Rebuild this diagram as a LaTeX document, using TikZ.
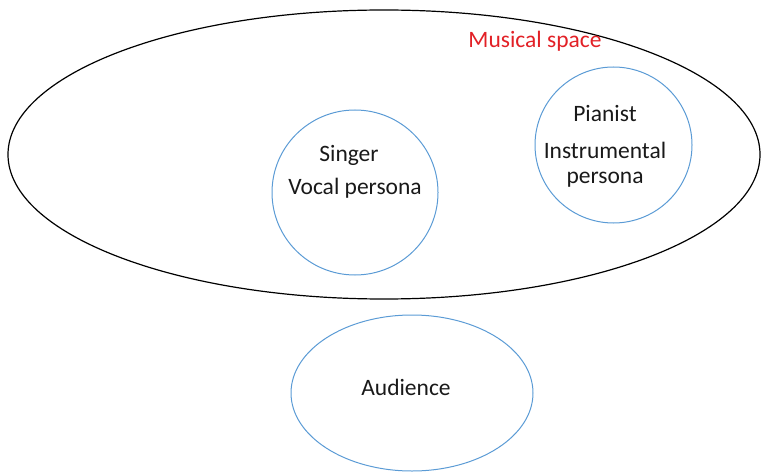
\documentclass[tikz,border=0pt]{standalone}
\usepackage{fontspec}
\setmainfont{Carlito}
\usetikzlibrary{shapes.geometric}
\definecolor{ringblue}{RGB}{91,155,213}
\definecolor{labelred}{RGB}{226,32,38}
\definecolor{ink}{RGB}{25,25,25}
\tikzset{
  space/.style={ellipse, draw=black, line width=1.2pt, inner sep=0pt},
  ring/.style={ellipse, draw=ringblue, line width=1pt, inner sep=0pt},
  txt/.style={text=ink, font=\fontsize{23.5}{28}\selectfont, inner sep=0pt, anchor=center},
}
\begin{document}
\begin{tikzpicture}[x=1pt, y=-1pt]
  \useasboundingbox (0,0) rectangle (762,473);
  % outer musical space
  \node[space, minimum width=752pt, minimum height=289pt] (space) at (384,154.5) {};
  \node[txt, text=labelred] (spacelabel) at (535,41) {Musical space};
  % singer
  \node[ring, minimum width=166pt, minimum height=165pt] (singer) at (355,192.5) {};
  \node[txt] (singername) at (349,155) {Singer};
  \node[txt] (vocal) at (355,188) {Vocal persona};
  % pianist
  \node[ring, minimum width=157pt, minimum height=156pt] (pianist) at (613.5,145) {};
  \node[txt] (pianistname) at (605,114) {Pianist};
  \node[txt] (instr) at (605,150) {Instrumental};
  \node[txt] (instrpersona) at (605,180) {persona};
  % audience
  \node[ring, minimum width=242pt, minimum height=156pt] (audience) at (412,393) {};
  \node[txt] (audiencename) at (406,387) {Audience};
\end{tikzpicture}
\end{document}
